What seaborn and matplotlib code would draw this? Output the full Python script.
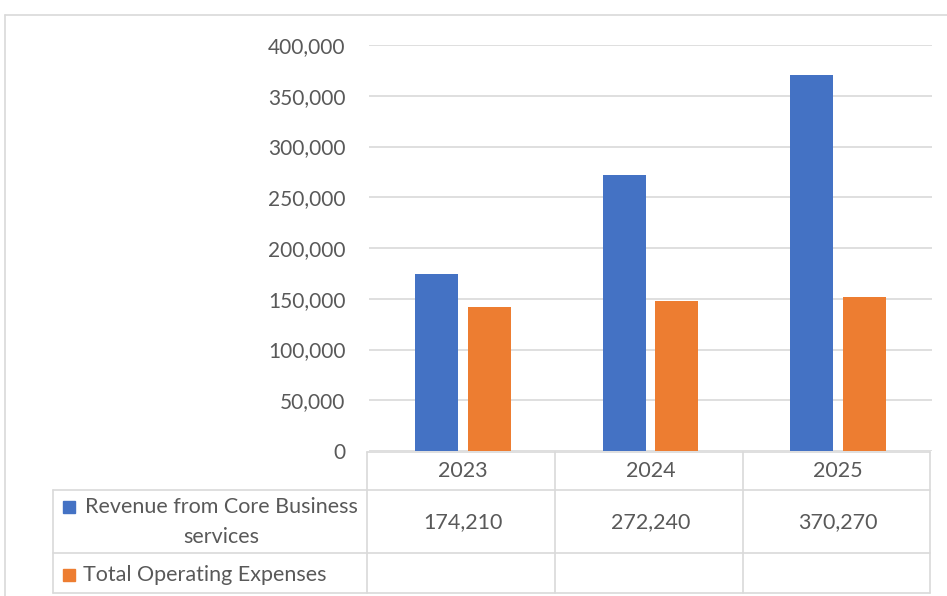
import matplotlib
matplotlib.use("Agg")
import matplotlib.pyplot as plt
import matplotlib.transforms as mtransforms
from matplotlib.lines import Line2D
from matplotlib.patches import Rectangle
from matplotlib.ticker import FuncFormatter
import pandas as pd
import seaborn as sns

YEARS = ["2023", "2024", "2025"]
SERIES = ["Revenue from Core Business services", "Total Operating Expenses"]
REVENUE = [174210, 272240, 370270]
EXPENSES = [142000, 148000, 152000]
Y_TICKS = [0, 50000, 100000, 150000, 200000, 250000, 300000, 350000, 400000]

BLUE = "#4472C4"
ORANGE = "#ED7D31"
GRID = "#D9D9D9"
TEXT = "#595959"

W, H = 947, 596


def fx(x):
    return x / W


def fy(y):
    return 1 - y / H


def main():
    sns.set_theme(style="white")
    plt.rcParams["font.family"] = ["Lato", "DejaVu Sans"]

    df = pd.DataFrame({
        "Year": YEARS * 2,
        "Series": [SERIES[0]] * 3 + [SERIES[1]] * 3,
        "Value": REVENUE + EXPENSES,
    })

    fig = plt.figure(figsize=(W / 100, H / 100), dpi=100)
    ax = fig.add_axes([fx(369), fy(451), fx(932) - fx(369), fy(45) - fy(451)])

    sns.barplot(
        data=df, x="Year", y="Value", hue="Series", hue_order=SERIES,
        palette=[BLUE, ORANGE], saturation=1, width=0.56, gap=0.18,
        legend=False, linewidth=0, ax=ax,
    )
    ax.set_xlim(-0.5, 2.5)
    ax.set_ylim(0, 400000)
    ax.set_yticks(Y_TICKS)
    ax.yaxis.set_major_formatter(FuncFormatter(lambda v, p: f"{int(v):,}"))
    ax.tick_params(axis="y", length=0, pad=17, labelsize=15, labelcolor=TEXT)
    ax.set_xticks([])
    ax.set_xlabel("")
    ax.set_ylabel("")
    ax.yaxis.grid(True, color=GRID, linewidth=1.2)
    ax.set_axisbelow(True)
    for s in ax.spines.values():
        s.set_visible(False)

    # data table under the plot
    lc = dict(color=GRID, linewidth=1.2, transform=fig.transFigure)
    fig.add_artist(Line2D([fx(367), fx(930)], [fy(452), fy(452)], **lc))
    for yy in (490, 553, 593):
        fig.add_artist(Line2D([fx(53), fx(930)], [fy(yy), fy(yy)], **lc))
    for xx in (367, 555, 743, 930):
        fig.add_artist(Line2D([fx(xx), fx(xx)], [fy(452), fy(593)], **lc))
    fig.add_artist(Line2D([fx(53), fx(53)], [fy(490), fy(593)], **lc))

    blend = mtransforms.blended_transform_factory(ax.transData, fig.transFigure)
    for i, (yr, rev) in enumerate(zip(YEARS, REVENUE)):
        ax.text(i, fy(471), yr, transform=blend, ha="center", va="center",
                fontsize=15.5, color=TEXT)
        ax.text(i, fy(522), f"{rev:,}", transform=blend, ha="center",
                va="center", fontsize=15.5, color=TEXT)

    fig.add_artist(Rectangle((fx(63), fy(513)), fx(12), 12 / H,
                             color=BLUE, transform=fig.transFigure))
    fig.add_artist(Rectangle((fx(63), fy(581)), fx(12), 12 / H,
                             color=ORANGE, transform=fig.transFigure))
    fig.text(fx(221), fy(522), "Revenue from Core Business\nservices",
             ha="center", va="center", multialignment="center",
             fontsize=15.5, color=TEXT, linespacing=1.6)
    fig.text(fx(83), fy(575), "Total Operating Expenses", ha="left",
             va="center", fontsize=15.5, color=TEXT)

    # chart border
    fig.add_artist(Line2D([fx(5), 1], [fy(15), fy(15)], **lc))
    fig.add_artist(Line2D([fx(5), fx(5)], [fy(15), 0], **lc))

    fig.savefig("out.png", dpi=100)
    plt.close(fig)


if __name__ == "__main__":
    main()
